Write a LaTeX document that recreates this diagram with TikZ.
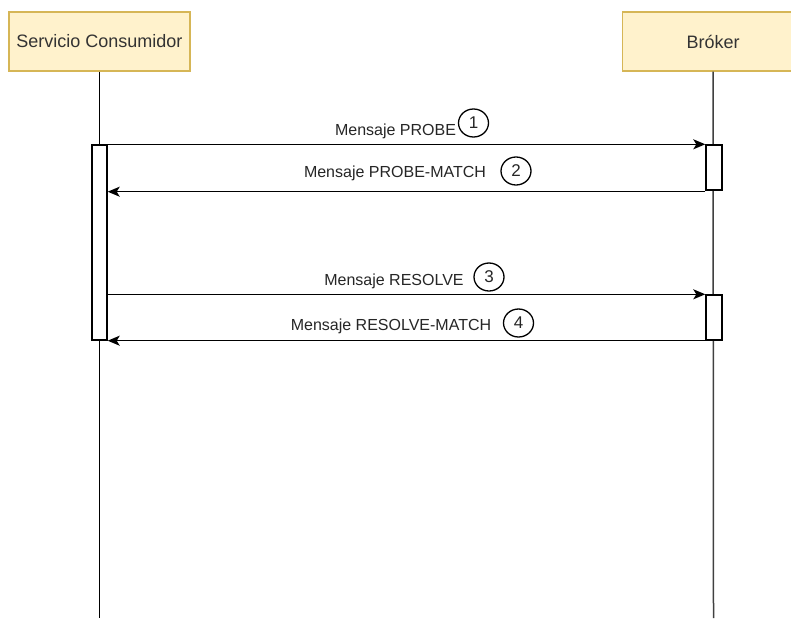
\documentclass[tikz,border=0pt]{standalone}
\usepackage{fontspec}
\setmainfont{Liberation Sans}
\usetikzlibrary{arrows.meta,shapes.geometric}
\definecolor{boxfill}{HTML}{FFF2CC}
\definecolor{boxdraw}{HTML}{D6B656}
\begin{document}
\begin{tikzpicture}[x=1pt,y=-1pt,
  actor/.style={draw=boxdraw,fill=boxfill,line width=1.2pt,minimum width=181pt,minimum height=59pt,inner sep=0pt,font=\fontsize{18}{20}\selectfont,text=black!80},
  life/.style={line width=1.5pt},
  act/.style={draw,fill=white,line width=1.4pt,minimum width=15pt,inner sep=0pt},
  msg/.style={line width=1.5pt,-{Stealth[length=12pt,width=10pt,inset=3pt]}},
  lbl/.style={font=\fontsize{16}{18}\selectfont,text=black!85,inner sep=0pt},
  num/.style={draw,ellipse,line width=1.3pt,minimum width=30pt,minimum height=28pt,inner sep=0pt,font=\fontsize{17}{19}\selectfont,text=black!85}]
\useasboundingbox (0,0) rectangle (791,618);
\clip (0,0) rectangle (791,618);
\fill[white] (0,0) rectangle (791,618);
% lifelines
\coordinate (lbot) at (99.5,618);
\coordinate (rbot) at (713.5,618);
\node[actor] (cons) at (99.5,41.5) {Servicio Consumidor};
\node[actor] (brok) at (713,41.5) {Bróker};
\draw[life] (cons.south) -- (lbot);
\draw[life,draw=black!75] (brok.south) -- (rbot);
% activations
\node[act,minimum height=195pt] (lact) at (99.5,242.5) {};
\node[act,minimum width=16pt,minimum height=45pt] (ract1) at (714,167.5) {};
\node[act,minimum width=16pt,minimum height=45pt] (ract2) at (714,317.5) {};
% messages
\draw[msg] (lact.north east) -- (ract1.north west);
\draw[msg] ([yshift=-1pt]ract1.south west) -- ([yshift=-1pt]lact.east |- ract1.south);
\draw[msg] (lact.east |- ract2.north) -- (ract2.north west);
\draw[msg] (ract2.south west) -- (lact.south east);
% labels
\node[lbl] (l1) at (395.5,131) {Mensaje PROBE};
\node[num] (n1) at (473.5,123) {1};
\node[lbl] (l2) at (395,173) {Mensaje PROBE-MATCH};
\node[num] (n2) at (516,171) {2};
\node[lbl] (l3) at (394,281) {Mensaje RESOLVE};
\node[num] (n3) at (489,277) {3};
\node[lbl] (l4) at (391,326) {Mensaje RESOLVE-MATCH};
\node[num] (n4) at (518.5,323) {4};
\end{tikzpicture}
\end{document}
